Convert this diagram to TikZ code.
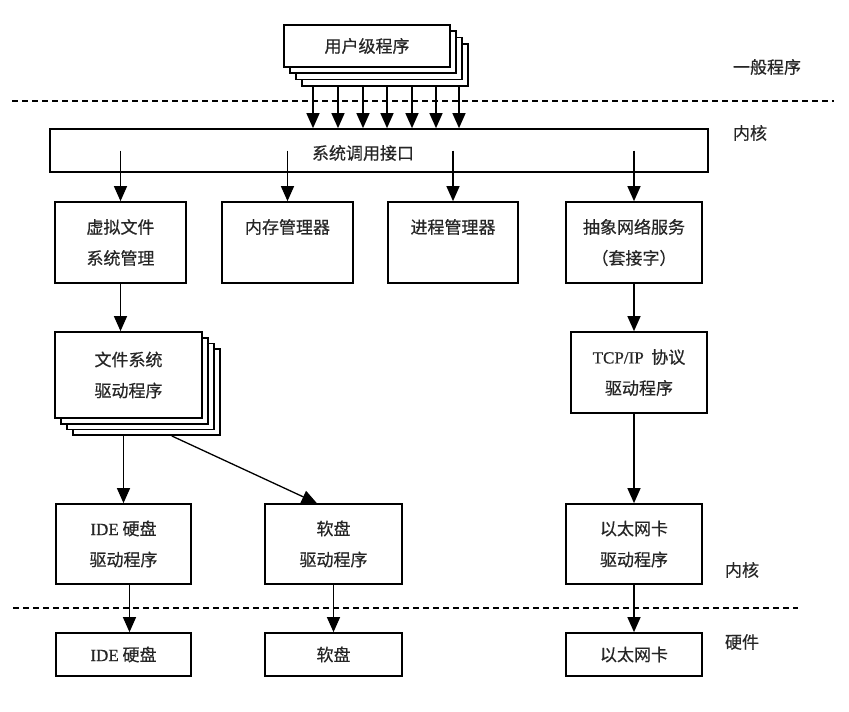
\documentclass[tikz,border=0pt]{standalone}
\usepackage{fontspec}
\setmainfont{Liberation Serif}
\newfontfamily\lat[FakeBold=0.5]{Liberation Serif}
\newfontfamily\cjk[FakeBold=0.5]{Noto Sans CJK SC}
\usetikzlibrary{arrows.meta,calc}
\tikzset{
  box/.style={draw, line width=1.7pt, fill=white, inner sep=0pt, align=center,
    font=\cjk\fontsize{17}{31}\selectfont, text=black!85},
  arr/.style={line width=1.3pt, -{Triangle[width=13pt,length=15pt]}},
  sepline/.style={dash pattern=on 6pt off 4pt, line width=1.4pt},
  lbl/.style={font=\cjk\fontsize{17}{20}\selectfont, text=black!85, inner sep=0pt}
}
\begin{document}
\begin{tikzpicture}[x=1pt,y=-1pt]
\fill[white] (0,0) rectangle (849,712);
\useasboundingbox (0,0) rectangle (849,712);
% separators
\coordinate (d1a) at (12,101); \coordinate (d1b) at (834,101);
\coordinate (d2a) at (13,608); \coordinate (d2b) at (798,608);
\draw[sepline] (d1a) -- (d1b);
\draw[sepline] (d2a) -- (d2b);
% side labels
\node[lbl] (lgen) at (767,67) {一般程序};
\node[lbl] (lk1) at (750,133) {内核};
\node[lbl] (lk2) at (742,570) {内核};
\node[lbl] (lhw) at (742,642) {硬件};
% user programs stack
\foreach \i in {3,2,1}
  \node[box, minimum width=166, minimum height=42] (u\i) at (367+6*\i,46+6.3*\i) {};
\node[box, minimum width=166, minimum height=42] (u0) at (367,46) {用户级程序};
% system call interface
\node[box, minimum width=658, minimum height=43] (sys) at (379,150.5) {};
\node[lbl] (syst) at (363,153) {系统调用接口};
\foreach \x in {313,338,363,387,412,436,459}
  \draw[arr] (\x,0 |- u3.south) -- (\x,0 |- sys.north);
% second row
\node[box, minimum width=131, minimum height=81] (vfs) at (120.5,242.5) {虚拟文件\\系统管理};
\node[box, minimum width=131, minimum height=81] (mem) at (287.5,242.5) {内存管理器\\\phantom{内}};
\node[box, minimum width=130, minimum height=81] (proc) at (453,242.5) {进程管理器\\\phantom{内}};
\node[box, minimum width=136, minimum height=81] (net) at (634,242.5) {抽象网络服务\\（套接字）};
\foreach \n in {vfs,mem,proc,net}
  \draw[arr] (\n.north |- sys.center) -- (\n.north);
% file system drivers stack
\foreach \i in {3,2,1}
  \node[box, minimum width=147, minimum height=86] (fs\i) at (128.5+6*\i,375+5.7*\i) {};
\node[box, minimum width=147, minimum height=86] (fs0) at (128.5,375) {文件系统\\驱动程序};
% TCP/IP
\node[box, minimum width=136, minimum height=81] (tcp) at (639,372.5) {{\lat TCP/IP}~~协议\\驱动程序};
% driver row
\node[box, minimum width=135, minimum height=80] (idedrv) at (123.5,544) {{\lat IDE} 硬盘\\驱动程序};
\node[box, minimum width=137, minimum height=80] (fddrv) at (333.5,544) {软盘\\驱动程序};
\node[box, minimum width=136, minimum height=80] (ethdrv) at (634,544) {以太网卡\\驱动程序};
% hardware row
\node[box, minimum width=135, minimum height=43] (ide) at (123.5,654.5) {{\lat IDE} 硬盘};
\node[box, minimum width=137, minimum height=43] (fd) at (333.5,654.5) {软盘};
\node[box, minimum width=136, minimum height=43] (eth) at (634,654.5) {以太网卡};
% connectors
\draw[arr] (vfs.south) -- (vfs.south |- fs0.north);
\draw[arr] (idedrv.north |- fs3.south) -- (idedrv.north);
\draw[arr] ($(fs3.south west)!0.67!(fs3.south east)$) -- ($(fddrv.north west)!0.38!(fddrv.north east)$);
\draw[arr] ([xshift=6]idedrv.south) -- ([xshift=6]ide.north);
\draw[arr] (fddrv.south) -- (fd.north);
\draw[arr] (net.south) -- (net.south |- tcp.north);
\draw[arr] (ethdrv.north |- tcp.south) -- (ethdrv.north);
\draw[arr] (ethdrv.south) -- (eth.north);
\end{tikzpicture}
\end{document}
